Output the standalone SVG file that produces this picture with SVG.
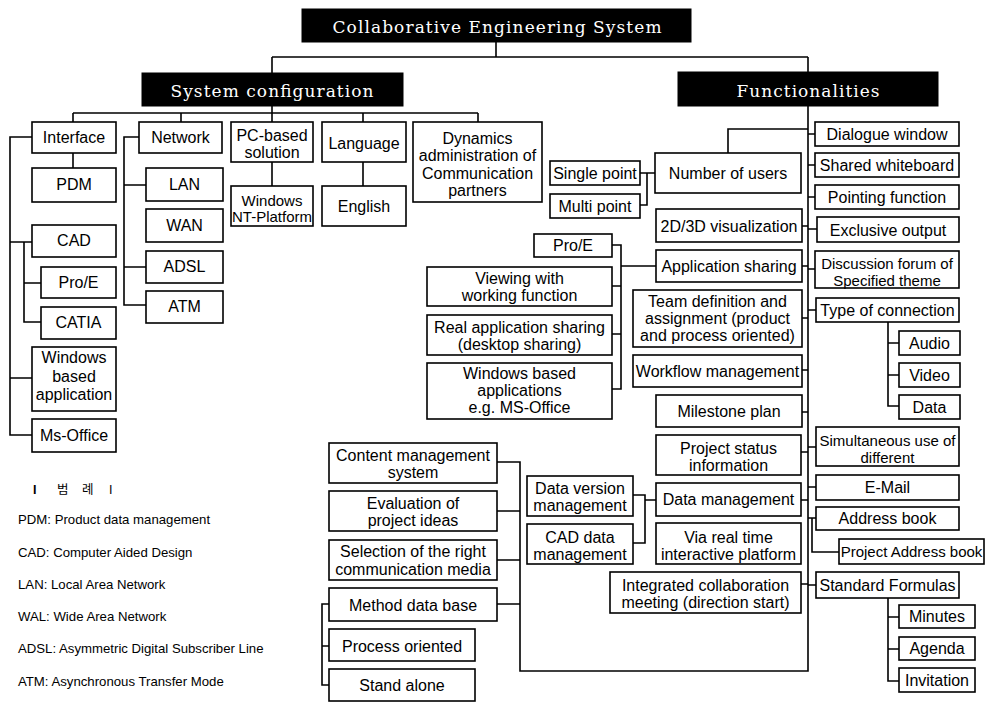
<svg xmlns="http://www.w3.org/2000/svg" width="986" height="702" viewBox="0 0 986 702">
<style>
.b rect{fill:#fff;stroke:#000;stroke-width:1.6}
.b text{font-family:"Liberation Sans",Arial,sans-serif;font-size:16px;text-anchor:middle;fill:#000}
.s text{font-size:15px}
.h rect{fill:#000;stroke:#000}
.h text{font-family:"DejaVu Serif","Liberation Serif",serif;font-size:17px;text-anchor:middle;fill:#fff}
#connectors path{fill:none;stroke:#000;stroke-width:1.6}
.lg{font-family:"Liberation Sans",Arial,sans-serif;font-size:13.2px;fill:#000}
.kr{font-family:"Liberation Sans","Noto Sans CJK KR",sans-serif;font-size:12.5px;fill:#000}
</style>
<rect width="986" height="702" fill="#fff"/>
<g id="connectors">
<path d="M496,42V57M272,57H808M272,57V73M808,57V72"/>
<path d="M272,106V113M73,113H478M73,113V122M181,113V122M272,113V122M363,113V122M478,113V122"/>
<path d="M73,153V168"/>
<path d="M32,137H10V435H32M10,242H32M10,378H32"/>
<path d="M24,242V322H41M24,283H41"/>
<path d="M139,137H124V305H146M124,185H146M124,267H146"/>
<path d="M272,162V186M363,162V186"/>
<path d="M808,106V671H520V462H497M497,511H520M497,560H520M497,604H520"/>
<path d="M808,129H728V153"/>
<path d="M640,173H655M647,173V205H640"/>
<path d="M808,134H815M808,165H815M808,197H815M808,229H817M808,269H815M808,310H816M808,447H816M808,487H816M808,518H816M808,585H816"/>
<path d="M802,226H808M802,266H808M802,318H808M802,370H808M802,412H808M801,452H808M801,500H808M801,584H808"/>
<path d="M656,266H621M612,245H621V389H612M612,286H621M612,334H621"/>
<path d="M888,322V406H899M888,343H899M888,375H899"/>
<path d="M812,518V552H839"/>
<path d="M888,598V681H899M888,617H899M888,649H899"/>
<path d="M656,500H645M633,495H645V543H633"/>
<path d="M329,604H322V685H329M322,646H329"/>
</g>
<g id="title" class="h"><rect x="302" y="9" width="389" height="33"/><text x="497" y="33" textLength="329" lengthAdjust="spacing">Collaborative Engineering System</text></g>
<g id="sysconf" class="h"><rect x="142" y="73" width="261" height="33"/><text x="272" y="97" font-size="18" textLength="203" lengthAdjust="spacing">System configuration</text></g>
<g id="func" class="h"><rect x="678" y="72" width="260" height="34"/><text x="808" y="97" font-size="18" textLength="143" lengthAdjust="spacing">Functionalities</text></g>

<g id="interface" class="b"><rect x="32" y="122" width="84" height="31"/><text x="74" y="143">Interface</text></g>
<g id="pdm" class="b"><rect x="32" y="168" width="84" height="34"/><text x="74" y="190">PDM</text></g>
<g id="cad" class="b"><rect x="32" y="225" width="84" height="32"/><text x="74" y="246">CAD</text></g>
<g id="proe1" class="b"><rect x="41" y="267" width="75" height="31"/><text x="78.5" y="288">Pro/E</text></g>
<g id="catia" class="b"><rect x="41" y="307" width="75" height="32"/><text x="78.5" y="328">CATIA</text></g>
<g id="winapp" class="b"><rect x="32" y="347" width="84" height="64"/><text x="74" y="362.5">Windows</text><text x="74" y="381.5">based</text><text x="74" y="399.5">application</text></g>
<g id="msoffice" class="b"><rect x="32" y="419" width="84" height="33"/><text x="74" y="441">Ms-Office</text></g>
<g id="network" class="b"><rect x="139" y="122" width="83" height="31"/><text x="180.5" y="143">Network</text></g>
<g id="lan" class="b"><rect x="146" y="168" width="77" height="33"/><text x="184.5" y="190">LAN</text></g>
<g id="wan" class="b"><rect x="146" y="209" width="77" height="33"/><text x="184.5" y="231">WAN</text></g>
<g id="adsl" class="b"><rect x="146" y="251" width="77" height="32"/><text x="184.5" y="272">ADSL</text></g>
<g id="atm" class="b"><rect x="146" y="291" width="77" height="32"/><text x="184.5" y="312">ATM</text></g>
<g id="pcbased" class="b"><rect x="231" y="122" width="82" height="40"/><text x="272" y="140.5">PC-based</text><text x="272" y="157.5">solution</text></g>
<g id="winnt" class="b s"><rect x="231" y="186" width="82" height="40"/><text x="272" y="206">Windows</text><text x="272" y="222">NT-Platform</text></g>
<g id="language" class="b"><rect x="322" y="122" width="84" height="40"/><text x="364" y="148.5">Language</text></g>
<g id="english" class="b"><rect x="322" y="186" width="84" height="40"/><text x="364" y="212">English</text></g>
<g id="dynamics" class="b"><rect x="413" y="122" width="129" height="80"/><text x="477.5" y="143.5">Dynamics</text><text x="477.5" y="161">administration of</text><text x="477.5" y="178.5">Communication</text><text x="477.5" y="196">partners</text></g>

<g id="single" class="b"><rect x="550" y="161" width="90" height="24"/><text x="595" y="179">Single point</text></g>
<g id="multi" class="b"><rect x="550" y="194" width="90" height="24"/><text x="595" y="212">Multi point</text></g>
<g id="numusers" class="b"><rect x="655" y="153" width="146" height="40"/><text x="728" y="179">Number of users</text></g>
<g id="vis" class="b"><rect x="656" y="209" width="146" height="33"/><text x="729" y="231.5">2D/3D visualization</text></g>
<g id="appshare" class="b"><rect x="656" y="250" width="146" height="32"/><text x="729" y="271.5">Application sharing</text></g>
<g id="proe2" class="b"><rect x="534" y="234" width="78" height="23"/><text x="573" y="250.5">Pro/E</text></g>
<g id="viewing" class="b"><rect x="427" y="267" width="185" height="39"/><text x="519.5" y="284">Viewing with</text><text x="519.5" y="301">working function</text></g>
<g id="realapp" class="b"><rect x="427" y="315" width="185" height="40"/><text x="519.5" y="332.5">Real application sharing</text><text x="519.5" y="350">(desktop sharing)</text></g>
<g id="winapps" class="b"><rect x="427" y="363" width="185" height="56"/><text x="519.5" y="378.5">Windows based</text><text x="519.5" y="396">applications</text><text x="519.5" y="413">e.g. MS-Office</text></g>
<g id="team" class="b"><rect x="633" y="290" width="169" height="57"/><text x="717.5" y="306.5">Team definition and</text><text x="717.5" y="323.5">assignment (product</text><text x="717.5" y="340.5">and process oriented)</text></g>
<g id="workflow" class="b"><rect x="633" y="355" width="169" height="32"/><text x="717.5" y="376.5">Workflow management</text></g>
<g id="milestone" class="b"><rect x="656" y="395" width="146" height="32"/><text x="729" y="416.5">Milestone plan</text></g>
<g id="projstatus" class="b"><rect x="656" y="435" width="145" height="40"/><text x="728.5" y="453.5">Project status</text><text x="728.5" y="471">information</text></g>
<g id="datamgmt" class="b"><rect x="656" y="483" width="145" height="33"/><text x="728.5" y="505">Data management</text></g>
<g id="dataver" class="b"><rect x="527" y="476" width="106" height="40"/><text x="580" y="493.5">Data version</text><text x="580" y="511">management</text></g>
<g id="caddata" class="b"><rect x="527" y="524" width="106" height="40"/><text x="580" y="542.5">CAD data</text><text x="580" y="560">management</text></g>
<g id="viareal" class="b"><rect x="656" y="523" width="145" height="41"/><text x="728.5" y="542.5">Via real time</text><text x="728.5" y="560">interactive platform</text></g>
<g id="integrated" class="b"><rect x="610" y="572" width="191" height="41"/><text x="705.5" y="590.5">Integrated collaboration</text><text x="705.5" y="608">meeting (direction start)</text></g>
<g id="content" class="b"><rect x="329" y="443" width="168" height="40"/><text x="413" y="460.5">Content management</text><text x="413" y="477.5">system</text></g>
<g id="evaluation" class="b"><rect x="329" y="491" width="168" height="40"/><text x="413" y="508.5">Evaluation of</text><text x="413" y="525.5">project ideas</text></g>
<g id="selection" class="b"><rect x="329" y="540" width="168" height="40"/><text x="413" y="557">Selection of the right</text><text x="413" y="574.5">communication media</text></g>
<g id="method" class="b"><rect x="329" y="588" width="168" height="33"/><text x="413" y="610.5">Method data base</text></g>
<g id="process" class="b"><rect x="329" y="629" width="146" height="32"/><text x="402" y="651.5">Process oriented</text></g>
<g id="standalone" class="b"><rect x="329" y="669" width="146" height="32"/><text x="402" y="691">Stand alone</text></g>

<g id="dialogue" class="b"><rect x="815" y="122" width="144" height="24"/><text x="887" y="139.5">Dialogue window</text></g>
<g id="shared" class="b"><rect x="815" y="153" width="144" height="24"/><text x="887" y="170.5">Shared whiteboard</text></g>
<g id="pointing" class="b"><rect x="815" y="185" width="144" height="24"/><text x="887" y="202.5">Pointing function</text></g>
<g id="exclusive" class="b"><rect x="817" y="217" width="142" height="25"/><text x="888" y="235.5">Exclusive output</text></g>
<g id="discussion" class="b s"><rect x="815" y="251" width="144" height="37"/><text x="887" y="268.5">Discussion forum of</text><text x="887" y="285.5">Specified theme</text></g>
<g id="typeconn" class="b"><rect x="816" y="298" width="143" height="24"/><text x="887.5" y="315.5">Type of connection</text></g>
<g id="audio" class="b"><rect x="899" y="331" width="61" height="24"/><text x="929.5" y="348.5">Audio</text></g>
<g id="video" class="b"><rect x="899" y="363" width="61" height="24"/><text x="929.5" y="380.5">Video</text></g>
<g id="data" class="b"><rect x="899" y="395" width="61" height="24"/><text x="929.5" y="412.5">Data</text></g>
<g id="simult" class="b s"><rect x="816" y="427" width="143" height="39"/><text x="887.5" y="446">Simultaneous use of</text><text x="887.5" y="462.5">different</text></g>
<g id="email" class="b"><rect x="816" y="475" width="143" height="25"/><text x="887.5" y="493">E-Mail</text></g>
<g id="address" class="b"><rect x="816" y="507" width="143" height="23"/><text x="887.5" y="524">Address book</text></g>
<g id="projaddr" class="b s"><rect x="839" y="539" width="145" height="25"/><text x="911.5" y="557">Project Address book</text></g>
<g id="stdform" class="b"><rect x="816" y="572" width="143" height="26"/><text x="887.5" y="590.5">Standard Formulas</text></g>
<g id="minutes" class="b"><rect x="899" y="605" width="76" height="23"/><text x="937" y="622">Minutes</text></g>
<g id="agenda" class="b"><rect x="899" y="637" width="76" height="23"/><text x="937" y="654">Agenda</text></g>
<g id="invitation" class="b"><rect x="899" y="668" width="76" height="24"/><text x="937" y="686">Invitation</text></g>

<g id="legend">
<text class="kr" x="33" y="494" font-weight="bold">I</text><text class="kr" x="57" y="494">범</text><text class="kr" x="82" y="494">례</text><text class="kr" x="109" y="494">I</text>
<text class="lg" x="18" y="524">PDM: Product data management</text>
<text class="lg" x="18" y="557">CAD: Computer Aided Design</text>
<text class="lg" x="18" y="589">LAN: Local Area Network</text>
<text class="lg" x="18" y="621">WAL: Wide Area Network</text>
<text class="lg" x="18" y="653">ADSL: Asymmetric Digital Subscriber Line</text>
<text class="lg" x="18" y="686">ATM: Asynchronous Transfer Mode</text>
</g>
</svg>
